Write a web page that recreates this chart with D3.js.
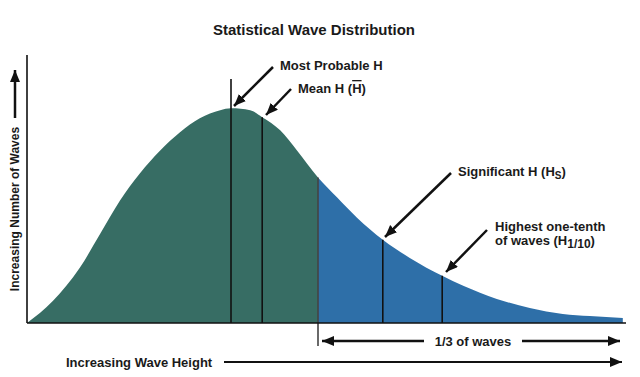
<!DOCTYPE html>
<html>
<head>
<meta charset="utf-8">
<script src="https://cdn.jsdelivr.net/npm/d3@7"></script>
<style>
  body { margin: 0; background: #fff; }
  text { font-family: "Liberation Sans", Arial, sans-serif; font-weight: bold; fill: #1a1a1a; }
</style>
</head>
<body>
<div id="chart"></div>
<script>
// wave height (0-100) vs number of waves (0-100)
var heights = [0, 4.3, 8.8, 12.2, 15.5, 18.8, 22.2, 25.5, 28.8, 32.2, 34, 37.2, 39.2, 42.2, 45, 48.5, 51.7, 55, 59.3, 63.8, 69.2, 72.7, 78.3, 83.8, 89.3, 93.8, 99.3];
var counts  = [0, 8.2, 20.6, 33.3, 45.7, 55.8, 64.4, 71.2, 76.4, 79.4, 80.1, 79.4, 76.8, 71.9, 64.4, 54.3, 46.8, 39.3, 31.1, 24.3, 17.6, 13.9, 9.0, 5.6, 3.4, 2.6, 1.9];

var markerNames   = ["mode", "mean", "third", "significant", "tenth"];
var markerHeights = [34, 39.2, 48.5, 59.3, 69.2];
var markerCounts  = [91, 76.8, 54.3, 31.1, 17.6];
var splitHeight = 48.5;

var w = 640, h = 377;
var svg = d3.select("#chart").append("svg").attr("width", w).attr("height", h);

var x = d3.scaleLinear().domain([0, 100]).range([27, 627]);
var y = d3.scaleLinear().domain([0, 100]).range([323, 55]);

var defs = svg.append("defs");
defs.append("marker").attr("id", "head")
    .attr("markerUnits", "userSpaceOnUse")
    .attr("markerWidth", 13).attr("markerHeight", 11)
    .attr("refX", 12).attr("refY", 5)
    .attr("orient", "auto-start-reverse")
    .append("path").attr("d", "M0,0 L12,5 L0,10 Z").attr("fill", "#111");

defs.append("clipPath").attr("id", "clipLeft").append("rect")
    .attr("x", 0).attr("y", 0).attr("width", x(splitHeight)).attr("height", h);
defs.append("clipPath").attr("id", "clipRight").append("rect")
    .attr("x", x(splitHeight)).attr("y", 0).attr("width", w).attr("height", h);

var pts = heights.map(function(d, i) { return [d, counts[i]]; });
var area = d3.area()
    .x(function(d) { return x(d[0]); })
    .y0(y(0))
    .y1(function(d) { return y(d[1]); })
    .curve(d3.curveMonotoneX);

svg.append("path").datum(pts).attr("d", area).attr("fill", "#376d64").attr("clip-path", "url(#clipLeft)");
svg.append("path").datum(pts).attr("d", area).attr("fill", "#2e6fa8").attr("clip-path", "url(#clipRight)");

// marker lines
markerNames.forEach(function(n, i) {
    svg.append("line")
        .attr("x1", x(markerHeights[i])).attr("x2", x(markerHeights[i]))
        .attr("y1", y(markerCounts[i])).attr("y2", n == "third" ? 346 : y(0))
        .attr("stroke", n == "third" ? "#444" : "#111").attr("stroke-width", 1.6);
});

// axes
svg.append("line").attr("x1", x(0)).attr("x2", x(0)).attr("y1", 55).attr("y2", y(0)).attr("stroke", "#111").attr("stroke-width", 1.6);
svg.append("line").attr("x1", x(0)).attr("x2", 626).attr("y1", y(0)).attr("y2", y(0)).attr("stroke", "#111").attr("stroke-width", 1.6);

// title
svg.append("text").text("Statistical Wave Distribution").attr("x", 314).attr("y", 35)
    .attr("text-anchor", "middle").style("font-size", "15px");

// annotation arrows
function arrow(x1, y1, x2, y2, both) {
    var l = svg.append("line").attr("x1", x1).attr("y1", y1).attr("x2", x2).attr("y2", y2)
        .attr("stroke", "#111").attr("stroke-width", 2.5).attr("marker-end", "url(#head)");
    if (both) l.attr("marker-start", "url(#head)");
    return l;
}
arrow(273, 67, 234, 106);
arrow(291, 89, 266, 115);
arrow(451, 173, 385, 237);
arrow(487, 230, 446, 272);

var fs = "13px";
svg.append("text").text("Most Probable H").attr("x", 280).attr("y", 70).style("font-size", fs);

var mean = svg.append("text").attr("x", 298).attr("y", 93).style("font-size", fs);
mean.append("tspan").text("Mean H (");
mean.append("tspan").text("H").style("text-decoration", "overline");
mean.append("tspan").text(")");

var sig = svg.append("text").attr("x", 458).attr("y", 176).style("font-size", fs);
sig.append("tspan").text("Significant H (H");
sig.append("tspan").text("S").attr("dy", 3).style("font-size", "10px");
sig.append("tspan").text(")").attr("dy", -3);

svg.append("text").text("Highest one-tenth").attr("x", 495).attr("y", 231).style("font-size", fs);
var ten = svg.append("text").attr("x", 495).attr("y", 245).style("font-size", fs);
ten.append("tspan").text("of waves (H");
ten.append("tspan").text("1/10").attr("dy", 3).style("font-size", "12px");
ten.append("tspan").text(")").attr("dy", -3);

// 1/3 of waves
arrow(424, 341, 322, 341);
arrow(522, 341, 620, 341);
svg.append("text").text("1/3 of waves").attr("x", 473).attr("y", 346).attr("text-anchor", "middle").style("font-size", fs);

// axis titles
svg.append("text").text("Increasing Wave Height").attr("x", 66).attr("y", 367).style("font-size", fs);
arrow(224, 362, 622, 362).attr("stroke-width", 2);

svg.append("text").text("Increasing Number of Waves")
    .attr("transform", "translate(19,209) rotate(-90)")
    .attr("text-anchor", "middle").style("font-size", "12px");
arrow(15, 118, 15, 70).attr("stroke-width", 2.5);
</script>
</body>
</html>
